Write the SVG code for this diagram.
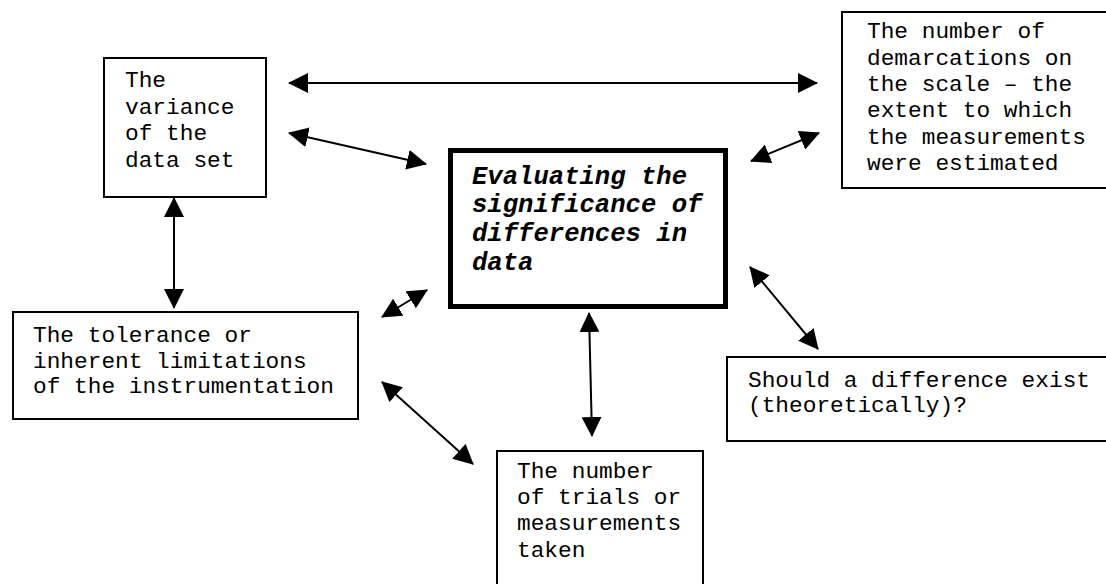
<svg xmlns="http://www.w3.org/2000/svg" width="1106" height="584" viewBox="0 0 1106 584">
<style>
.box{fill:#fff;stroke:#000;stroke-width:2}
.main{fill:#fff;stroke:#000;stroke-width:5}
.t{font-family:"Liberation Mono","Courier New",monospace;font-size:22.8px;fill:#000}
.tb{font-family:"Liberation Mono","Courier New",monospace;font-size:25.6px;font-weight:bold;font-style:italic;fill:#000}
.c{stroke:#000;stroke-width:2;fill:none;marker-start:url(#ah);marker-end:url(#ah)}
</style>
<defs>
<marker id="ah" viewBox="0 0 20 20" refX="19" refY="10" markerWidth="20" markerHeight="20" markerUnits="userSpaceOnUse" orient="auto-start-reverse">
<path d="M0,0 L20,10 L0,20 z" fill="#000"/>
</marker>
</defs>
<rect width="1106" height="584" fill="#fff"/>
<g id="connectors">
<line class="c" x1="289" y1="83" x2="817" y2="83"/>
<line class="c" x1="289" y1="133" x2="426" y2="164"/>
<line class="c" x1="751" y1="161" x2="819" y2="133"/>
<line class="c" x1="174" y1="198" x2="174" y2="308"/>
<line class="c" x1="382" y1="317" x2="427" y2="290"/>
<line class="c" x1="382" y1="382" x2="473" y2="464"/>
<line class="c" x1="589" y1="313" x2="592" y2="436"/>
<line class="c" x1="750" y1="267" x2="818" y2="349"/>
</g>
<g id="variance">
<rect class="box" x="104" y="58" width="162" height="139"/>
<text class="t" x="125" y="87">The</text>
<text class="t" x="125" y="114">variance</text>
<text class="t" x="125" y="140">of the</text>
<text class="t" x="125" y="167">data set</text>
</g>
<g id="demarcations">
<rect class="box" x="842" y="12" width="280" height="176"/>
<text class="t" x="867" y="38">The number of</text>
<text class="t" x="867" y="65">demarcations on</text>
<text class="t" x="867" y="91">the scale – the</text>
<text class="t" x="867" y="117">extent to which</text>
<text class="t" x="867" y="144">the measurements</text>
<text class="t" x="867" y="170">were estimated</text>
</g>
<g id="center">
<rect class="main" x="450.5" y="150.5" width="275" height="156"/>
<text class="tb" x="472" y="184">Evaluating the</text>
<text class="tb" x="472" y="212">significance of</text>
<text class="tb" x="472" y="241">differences in</text>
<text class="tb" x="472" y="270">data</text>
</g>
<g id="tolerance">
<rect class="box" x="13" y="312" width="345" height="107"/>
<text class="t" x="33" y="342">The tolerance or</text>
<text class="t" x="33" y="368">inherent limitations</text>
<text class="t" x="33" y="393">of the instrumentation</text>
</g>
<g id="should">
<rect class="box" x="727" y="357" width="400" height="84"/>
<text class="t" x="748" y="387">Should a difference exist</text>
<text class="t" x="748" y="412">(theoretically)?</text>
</g>
<g id="trials">
<rect class="box" x="497" y="451" width="206" height="150"/>
<text class="t" x="517" y="478">The number</text>
<text class="t" x="517" y="504">of trials or</text>
<text class="t" x="517" y="530">measurements</text>
<text class="t" x="517" y="557">taken</text>
</g>
</svg>
